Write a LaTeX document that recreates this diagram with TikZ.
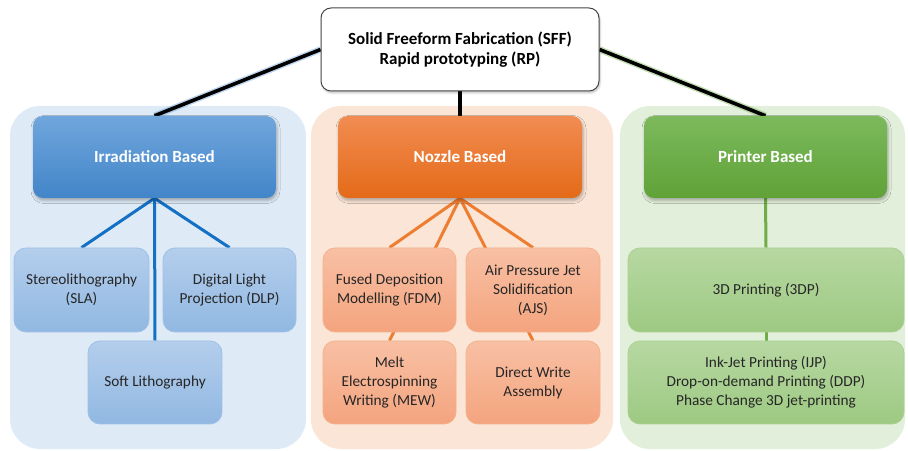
\documentclass[tikz,border=0pt]{standalone}
\usepackage{fontspec}
\setmainfont{Carlito}
\usetikzlibrary{shadows,shadows.blur}
\pgfdeclarelayer{panel}
\pgfdeclarelayer{links}
\pgfsetlayers{panel,links,main}
\definecolor{bPanel}{RGB}{222,235,247}
\definecolor{bHeadT}{RGB}{112,166,220}
\definecolor{bHeadB}{RGB}{66,133,201}
\definecolor{bSubT}{RGB}{180,206,236}
\definecolor{bSubB}{RGB}{145,184,226}
\definecolor{bSubD}{RGB}{160,192,229}
\definecolor{bLink}{RGB}{20,112,196}
\definecolor{oPanel}{RGB}{251,229,214}
\definecolor{oHeadT}{RGB}{241,140,82}
\definecolor{oHeadB}{RGB}{228,106,24}
\definecolor{oSubT}{RGB}{248,192,164}
\definecolor{oSubB}{RGB}{244,164,126}
\definecolor{oSubD}{RGB}{244,178,140}
\definecolor{oLink}{RGB}{237,125,49}
\definecolor{gPanel}{RGB}{226,239,218}
\definecolor{gHeadT}{RGB}{124,185,92}
\definecolor{gHeadB}{RGB}{96,162,56}
\definecolor{gSubT}{RGB}{183,216,162}
\definecolor{gSubB}{RGB}{157,201,130}
\definecolor{gSubD}{RGB}{170,208,146}
\definecolor{gLink}{RGB}{112,173,71}
\definecolor{txt}{RGB}{38,38,38}
\begin{document}
\begin{tikzpicture}[x=1pt,y=1pt,
  panelbox/.style={rounded corners=30pt, inner sep=0pt},
  headbox/.style={rounded corners=10pt, inner sep=0pt, minimum height=82pt,
    text=white, font=\fontsize{17}{20}\selectfont\bfseries,
    blur shadow={shadow xshift=1pt, shadow yshift=-2.5pt, shadow blur radius=3pt, shadow opacity=30}},
  subbox/.style={rounded corners=12pt, inner sep=0pt, line width=0.8pt, align=center,
    text=txt, font=\fontsize{15.3}{19}\selectfont},
  bluesub/.style={subbox, top color=bSubT, bottom color=bSubB, draw=bSubD},
  orangesub/.style={subbox, top color=oSubT, bottom color=oSubB, draw=oSubD},
  greensub/.style={subbox, top color=gSubT, bottom color=gSubB, draw=gSubD},
  rootbox/.style={rounded corners=10pt, inner sep=0pt, fill=white, draw={rgb,255:red,70;green,70;blue,70},
    line width=1pt, align=center, text=black, font=\fontsize{17}{20}\selectfont\bfseries,
    blur shadow={shadow xshift=1pt, shadow yshift=-2pt, shadow blur radius=2pt, shadow opacity=25}},
  trunk/.style={line width=3.6pt, black},
  glow/.style={line width=6.5pt, opacity=0.45},
  branch/.style={line width=3pt}
]
\useasboundingbox (0,0) rectangle (908,450);

% root
\node[rootbox, minimum width=278pt, minimum height=83pt] (sff) at (460,400.5)
  {Solid Freeform Fabrication (SFF)\\Rapid prototyping (RP)};

% headers
\node[headbox, minimum width=243pt, top color=bHeadT, bottom color=bHeadB] (irr) at (154.5,293) {Irradiation Based};
\node[headbox, minimum width=244pt, top color=oHeadT, bottom color=oHeadB] (noz) at (460,293) {Nozzle Based};
\node[headbox, minimum width=243pt, top color=gHeadT, bottom color=gHeadB] (prn) at (765.5,293) {Printer Based};

% irradiation children
\node[bluesub, minimum width=135pt, minimum height=84pt] (sla) at (81.5,160) {Stereolithography\\(SLA)};
\node[bluesub, minimum width=133pt, minimum height=84pt] (dlp) at (229.5,160) {Digital Light\\Projection (DLP)};
\node[bluesub, minimum width=134pt, minimum height=83pt] (soft) at (155,67.5) {Soft Lithography};

% nozzle children
\node[orangesub, minimum width=133pt, minimum height=84pt] (fdm) at (389.5,160) {Fused Deposition\\Modelling (FDM)};
\node[orangesub, minimum width=134pt, minimum height=84pt] (ajs) at (533,160) {Air Pressure Jet\\Solidification\\(AJS)};
\node[orangesub, minimum width=133pt, minimum height=83pt] (mew) at (389.5,67.5) {Melt\\Electrospinning\\Writing (MEW)};
\node[orangesub, minimum width=134pt, minimum height=83pt] (dwa) at (533,67.5) {Direct Write\\Assembly};

% printer children
\node[greensub, minimum width=276pt, minimum height=84pt] (tdp) at (766,160) {3D Printing (3DP)};
\node[greensub, minimum width=276pt, minimum height=83pt] (ijp) at (766,67.5)
  {Ink-Jet Printing (IJP)\\Drop-on-demand Printing (DDP)\\Phase Change 3D jet-printing};

\begin{pgfonlayer}{panel}
  \node[panelbox, fill=bPanel, minimum width=296pt, minimum height=343pt] (pblue) at (158,172.5) {};
  \node[panelbox, fill=oPanel, minimum width=302pt, minimum height=343pt] (porange) at (462,172.5) {};
  \node[panelbox, fill=gPanel, minimum width=285pt, minimum height=343pt] (pgreen) at (762.5,172.5) {};
\end{pgfonlayer}

\begin{pgfonlayer}{links}
  % root connectors with glow
  \draw[glow, bHeadT] (sff.west) -- (irr.north);
  \draw[glow, gHeadT] (sff.east) -- (prn.north);
  \draw[trunk] (sff.west) -- (irr.north);
  \draw[trunk] (sff.south) -- (noz.north);
  \draw[trunk] (sff.east) -- (prn.north);
  % irradiation
  \draw[branch, bLink] (irr.south) -- (sla.north);
  \draw[branch, bLink] (irr.south) -- (dlp.north);
  \draw[branch, bLink] (irr.south) -- (soft.north);
  % nozzle
  \draw[branch, oLink] (noz.south) -- (fdm.north);
  \draw[branch, oLink] (noz.south) -- (ajs.north);
  \draw[branch, oLink] (noz.south) -- (mew.north);
  \draw[branch, oLink] (noz.south) -- (dwa.north);
  % printer
  \draw[branch, gLink] (prn.south) -- (tdp.north);
  \draw[branch, gLink] (tdp.south) -- (ijp.north);
\end{pgfonlayer}
\end{tikzpicture}
\end{document}
